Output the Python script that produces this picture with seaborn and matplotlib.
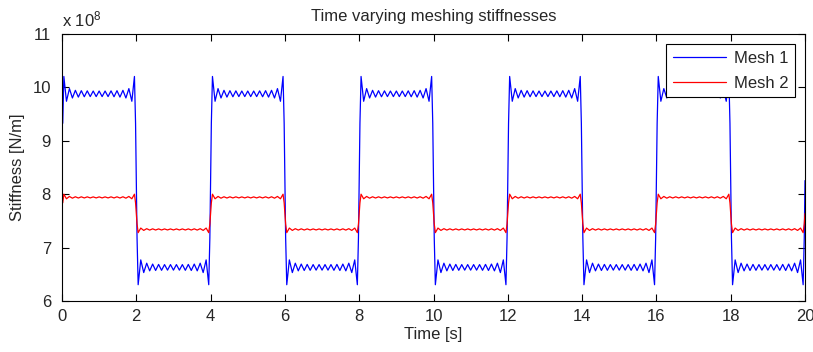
import matplotlib
matplotlib.use("Agg")
import matplotlib.pyplot as plt
import numpy as np
import pandas as pd
import seaborn as sns

# Plateau stiffness levels of each mesh, in units of 1e8 N/m: (high, low)
mesh1_levels = [9.88, 6.63]
mesh2_levels = [7.94, 7.34]

half_period = 2.0   # s, duration of each contact state
t_end = 20.0        # s

# Ripple over one contact state: time after the switching edge [s] and the
# deviation from the plateau level, as a fraction of the step height
ripple_t = [0.02, 0.05, 0.12, 0.20, 0.28, 0.36, 0.44, 0.52, 0.60, 0.68, 0.76,
            0.84, 0.92, 1.00, 1.08, 1.16, 1.24, 1.32, 1.40, 1.48, 1.56, 1.64,
            1.72, 1.80, 1.88, 1.95, 1.98]
ripple_frac = [-0.17, 0.10, -0.043, 0.030, -0.024, 0.020, -0.019, 0.018,
               -0.017, 0.017, -0.016, 0.016, -0.016, 0.016, -0.016, 0.016,
               -0.016, 0.017, -0.017, 0.018, -0.019, 0.020, -0.024, 0.030,
               -0.043, 0.10, -0.17]

x_ticks = [0, 2, 4, 6, 8, 10, 12, 14, 16, 18, 20]
y_ticks = [6, 7, 8, 9, 10, 11]


def stiffness_series(levels, name):
    high, low = levels
    step = high - low
    n_states = int(round(t_end / half_period))
    t, k = [], []
    for i in range(n_states):
        base, sign = (high, 1.0) if i % 2 == 0 else (low, -1.0)
        for rt, rf in zip(ripple_t, ripple_frac):
            t.append(i * half_period + rt)
            k.append(base + sign * rf * step)
    t.append(t_end)
    k.append(0.5 * (high + low))
    return pd.DataFrame({"Time": t, "Stiffness": k, "Mesh": name})


df = pd.concat([stiffness_series(mesh1_levels, "Mesh 1"),
                stiffness_series(mesh2_levels, "Mesh 2")], ignore_index=True)

sns.set_style("white")
plt.rcParams["font.family"] = ["Liberation Sans", "DejaVu Sans"]
plt.rcParams["mathtext.default"] = "regular"

FS = 12

fig = plt.figure(figsize=(8.13, 3.52), dpi=100)
ax = fig.add_axes([62 / 813, 1 - 301 / 352, (805 - 62) / 813, (301 - 34) / 352])

sns.lineplot(data=df, x="Time", y="Stiffness", hue="Mesh",
             palette={"Mesh 1": "#0000ff", "Mesh 2": "#ff0000"},
             estimator=None, sort=False, linewidth=0.9, ax=ax)

ax.set_xlim(0, 20)
ax.set_ylim(6, 11)
ax.set_xticks(x_ticks)
ax.set_yticks(y_ticks)
ax.set_xticklabels([str(v) for v in x_ticks])
ax.set_yticklabels([str(v) for v in y_ticks])
ax.tick_params(axis="both", direction="in", length=5, width=0.8, color="black",
               labelsize=FS, top=True, right=True, bottom=True, left=True)
ax.tick_params(axis="y", pad=8)
ax.tick_params(axis="x", pad=6)
for sp in ax.spines.values():
    sp.set_color("black")
    sp.set_linewidth(0.8)

ax.set_xlabel("Time [s]", fontsize=FS, labelpad=2)
ax.set_ylabel("Stiffness [N/m]", fontsize=FS, labelpad=5)
ax.set_title("Time varying meshing stiffnesses", fontsize=FS, pad=9)
ax.annotate("x 10$^{8}$", xy=(0, 1), xycoords="axes fraction",
            xytext=(0, 3), textcoords="offset points",
            ha="left", va="bottom", fontsize=FS)

leg = ax.legend(loc="upper right", bbox_to_anchor=(0.9865, 0.9625),
                borderaxespad=0, fancybox=False, frameon=True, framealpha=1,
                edgecolor="black", fontsize=FS, handlelength=3.2,
                handletextpad=0.45, labelspacing=0.6, borderpad=0.4,
                title=None)
leg.get_frame().set_linewidth(0.8)
for line in leg.get_lines():
    line.set_linewidth(0.9)

fig.savefig("out.png", dpi=100, facecolor="white")
